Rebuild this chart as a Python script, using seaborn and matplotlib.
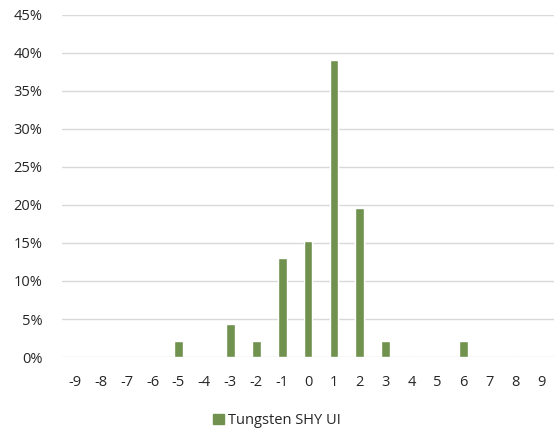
import pandas as pd
import matplotlib.pyplot as plt
import seaborn as sns
from matplotlib.patches import Patch
from matplotlib.ticker import PercentFormatter

# deviation buckets and share of observations
buckets = list(range(-9, 10))
shares = [0, 0, 0, 0, 2.17, 0, 4.35, 2.17, 13.04, 15.22,
          39.13, 19.57, 2.17, 0, 0, 2.17, 0, 0, 0]
series_name = 'Tungsten SHY UI'
bar_color = '#71914f'

df = pd.DataFrame({'bucket': [str(b) for b in buckets], 'share': shares})

sns.set_theme(style='white')
plt.rcParams['font.family'] = ['Open Sans', 'DejaVu Sans']

fig = plt.figure(figsize=(5.57, 4.33), dpi=100)
ax = fig.add_axes([0.111, 0.1755, 0.884, 0.79])

sns.barplot(data=df, x='bucket', y='share', color=bar_color, saturation=1,
            width=0.34, ax=ax, zorder=3, order=[str(b) for b in buckets])

ax.set_ylim(0, 45)
ax.set_yticks(range(0, 46, 5))
ax.yaxis.set_major_formatter(PercentFormatter(decimals=0))
ax.set_xlim(-0.5, len(buckets) - 0.5)
ax.grid(axis='y', color='#d9d9d9', linewidth=1, zorder=0)
for s in ax.spines.values():
    s.set_visible(False)
ax.tick_params(axis='x', length=0, labelsize=10.5, colors='#262626', pad=13)
ax.tick_params(axis='y', length=0, labelsize=10.5, colors='#262626', pad=14)
ax.set_xlabel('')
ax.set_ylabel('')

ax.legend(handles=[Patch(color=bar_color, label=series_name)],
          loc='upper center', bbox_to_anchor=(0.437, -0.125), frameon=False,
          fontsize=10.5, handlelength=0.7, handleheight=0.7,
          handletextpad=0.3, labelcolor='#262626')

fig.savefig('out.png', dpi=100)
